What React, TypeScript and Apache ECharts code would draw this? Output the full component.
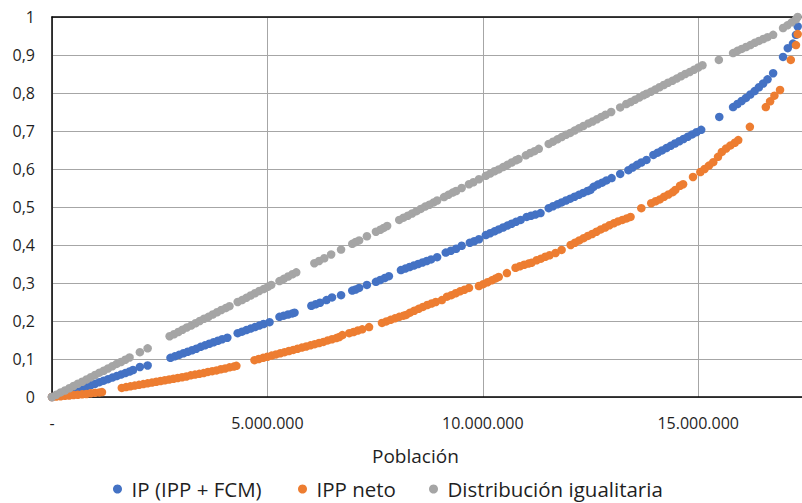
import React, { useEffect, useRef } from "react";
import * as echarts from "echarts";

// Población acumulada (millones de personas) y proporción acumulada
const ipPoints: [number, number][] = [
  [0, 0], [0.1, 0.003], [0.2, 0.007], [0.3, 0.01], [0.4, 0.014], [0.5, 0.017], [0.6, 0.021], [0.7, 0.024],
  [0.8, 0.028], [0.9, 0.031], [1.0, 0.035], [1.1, 0.039], [1.2, 0.043], [1.3, 0.047], [1.4, 0.051],
  [1.5, 0.055], [1.6, 0.059], [1.7, 0.063], [1.8, 0.067], [1.88, 0.071],
  [2.04, 0.079], [2.22, 0.083],
  [2.75, 0.103], [2.85, 0.107], [2.95, 0.111], [3.05, 0.115], [3.15, 0.119], [3.25, 0.123], [3.35, 0.127],
  [3.45, 0.132], [3.55, 0.136], [3.65, 0.14], [3.75, 0.144], [3.85, 0.148], [3.95, 0.152], [4.07, 0.156],
  [4.31, 0.168], [4.41, 0.172], [4.51, 0.176], [4.61, 0.18], [4.71, 0.184], [4.81, 0.188], [4.91, 0.192], [5.05, 0.197],
  [5.28, 0.211], [5.38, 0.214], [5.48, 0.217], [5.58, 0.22], [5.63, 0.222],
  [6.02, 0.24], [6.12, 0.244], [6.22, 0.248], [6.37, 0.255],
  [6.5, 0.262], [6.71, 0.268],
  [6.97, 0.28], [7.05, 0.283], [7.13, 0.287],
  [7.31, 0.295],
  [7.52, 0.303], [7.62, 0.308], [7.72, 0.313], [7.82, 0.318],
  [8.1, 0.334], [8.2, 0.338], [8.3, 0.342], [8.4, 0.346], [8.5, 0.35], [8.6, 0.354], [8.7, 0.358], [8.8, 0.362], [8.94, 0.368],
  [9.14, 0.38], [9.26, 0.385], [9.38, 0.39],
  [9.51, 0.398],
  [9.7, 0.406], [9.8, 0.41], [9.91, 0.415],
  [10.07, 0.426], [10.17, 0.431], [10.27, 0.436], [10.37, 0.441], [10.47, 0.446], [10.57, 0.451], [10.67, 0.456],
  [10.77, 0.461], [10.88, 0.466],
  [11.02, 0.474], [11.12, 0.477], [11.22, 0.48], [11.34, 0.484],
  [11.53, 0.497], [11.63, 0.502], [11.73, 0.507], [11.83, 0.512], [11.93, 0.517], [12.03, 0.522], [12.13, 0.527],
  [12.23, 0.532], [12.33, 0.537], [12.43, 0.542], [12.5, 0.545],
  [12.57, 0.553], [12.67, 0.559], [12.77, 0.564], [12.87, 0.57], [12.99, 0.576],
  [13.19, 0.587],
  [13.38, 0.597], [13.48, 0.604], [13.58, 0.611], [13.68, 0.617], [13.8, 0.624],
  [13.96, 0.637], [14.06, 0.643], [14.16, 0.649], [14.26, 0.655], [14.36, 0.661], [14.46, 0.667], [14.56, 0.673],
  [14.66, 0.679], [14.76, 0.685], [14.86, 0.691], [14.96, 0.697], [15.07, 0.703],
  [15.49, 0.737],
  [15.81, 0.763], [15.91, 0.771], [16.01, 0.779], [16.11, 0.787], [16.21, 0.796], [16.31, 0.805], [16.41, 0.815],
  [16.51, 0.825], [16.61, 0.836], [16.74, 0.852],
  [16.97, 0.895],
  [17.08, 0.918], [17.2, 0.93],
  [17.27, 0.953], [17.31, 0.975],
];

const ippNetoPoints: [number, number][] = [
  [0, 0], [0.1, 0.001], [0.2, 0.002], [0.3, 0.003], [0.4, 0.004], [0.5, 0.005], [0.6, 0.006], [0.7, 0.007],
  [0.8, 0.008], [0.9, 0.01], [1.0, 0.011], [1.1, 0.012], [1.16, 0.013],
  [1.62, 0.024], [1.72, 0.026], [1.82, 0.028], [1.92, 0.03], [2.02, 0.032], [2.12, 0.034], [2.22, 0.036],
  [2.32, 0.038], [2.42, 0.04], [2.52, 0.042], [2.62, 0.044], [2.72, 0.046], [2.82, 0.048], [2.92, 0.05],
  [3.02, 0.052], [3.12, 0.054], [3.22, 0.057], [3.32, 0.059], [3.42, 0.061], [3.52, 0.063], [3.62, 0.066],
  [3.72, 0.068], [3.82, 0.07], [3.92, 0.073], [4.02, 0.075], [4.12, 0.078], [4.22, 0.08], [4.28, 0.082],
  [4.7, 0.097], [4.8, 0.1], [4.9, 0.103], [5.0, 0.106], [5.1, 0.109], [5.2, 0.112], [5.3, 0.115], [5.4, 0.118],
  [5.5, 0.121], [5.6, 0.124], [5.7, 0.127], [5.8, 0.13], [5.9, 0.133], [6.0, 0.136], [6.1, 0.139], [6.2, 0.142],
  [6.3, 0.145], [6.4, 0.149], [6.5, 0.152], [6.6, 0.155], [6.67, 0.158],
  [6.74, 0.163],
  [6.9, 0.168], [7.0, 0.171], [7.1, 0.175], [7.2, 0.178], [7.36, 0.184],
  [7.66, 0.195], [7.76, 0.199], [7.86, 0.203], [7.96, 0.207], [8.06, 0.211], [8.16, 0.214], [8.22, 0.216],
  [8.31, 0.222], [8.41, 0.227], [8.51, 0.232], [8.61, 0.237], [8.71, 0.242], [8.81, 0.246], [8.91, 0.25], [9.05, 0.255],
  [9.17, 0.264], [9.27, 0.268], [9.37, 0.273], [9.47, 0.278], [9.57, 0.282], [9.68, 0.287],
  [9.91, 0.292], [10.01, 0.297], [10.11, 0.302], [10.21, 0.307], [10.3, 0.312], [10.37, 0.316],
  [10.56, 0.326],
  [10.76, 0.34], [10.86, 0.344], [10.96, 0.348], [11.06, 0.351], [11.13, 0.353],
  [11.25, 0.36], [11.35, 0.364], [11.45, 0.369], [11.55, 0.373], [11.69, 0.379],
  [11.83, 0.387],
  [12.04, 0.4], [12.14, 0.406], [12.24, 0.412], [12.34, 0.418], [12.44, 0.424], [12.54, 0.429], [12.64, 0.435],
  [12.74, 0.441], [12.84, 0.446], [12.94, 0.452], [13.04, 0.457], [13.14, 0.462], [13.24, 0.466], [13.34, 0.47], [13.43, 0.474],
  [13.68, 0.497],
  [13.91, 0.51], [14.01, 0.515], [14.11, 0.52], [14.21, 0.527], [14.31, 0.533], [14.41, 0.539], [14.47, 0.545],
  [14.58, 0.556], [14.65, 0.56],
  [14.88, 0.579],
  [15.05, 0.592], [15.15, 0.6], [15.25, 0.609], [15.35, 0.618], [15.46, 0.632],
  [15.55, 0.645], [15.65, 0.654], [15.75, 0.662], [15.85, 0.669], [15.93, 0.676],
  [16.2, 0.711],
  [16.57, 0.763], [16.67, 0.778], [16.77, 0.793], [16.9, 0.808],
  [17.15, 0.887],
  [17.27, 0.926], [17.31, 0.955],
];

const igualitariaPoints: [number, number][] = [
  [0, 0], [0.1, 0.006], [0.2, 0.012], [0.3, 0.017], [0.4, 0.023], [0.5, 0.029], [0.6, 0.035], [0.7, 0.04],
  [0.8, 0.046], [0.9, 0.052], [1.0, 0.058], [1.1, 0.064], [1.2, 0.069], [1.3, 0.075], [1.4, 0.081],
  [1.5, 0.087], [1.6, 0.092], [1.7, 0.098], [1.8, 0.104],
  [2.04, 0.118], [2.22, 0.128],
  [2.73, 0.16], [2.83, 0.165], [2.93, 0.171], [3.03, 0.177], [3.13, 0.183], [3.23, 0.188], [3.33, 0.194],
  [3.43, 0.2], [3.53, 0.206], [3.63, 0.211], [3.73, 0.217], [3.83, 0.223], [3.93, 0.229], [4.03, 0.234], [4.12, 0.239],
  [4.31, 0.25], [4.41, 0.255], [4.51, 0.261], [4.61, 0.267], [4.71, 0.273], [4.81, 0.279], [4.91, 0.284],
  [5.01, 0.29], [5.09, 0.295],
  [5.28, 0.305], [5.38, 0.311], [5.48, 0.317], [5.58, 0.323], [5.67, 0.328],
  [6.09, 0.352], [6.2, 0.358], [6.32, 0.365],
  [6.48, 0.375], [6.71, 0.388],
  [6.97, 0.403], [7.05, 0.408], [7.13, 0.412],
  [7.31, 0.423],
  [7.52, 0.435], [7.62, 0.44], [7.7, 0.445], [7.78, 0.45],
  [8.06, 0.466], [8.16, 0.472], [8.26, 0.477], [8.36, 0.483], [8.46, 0.489], [8.56, 0.495], [8.66, 0.501],
  [8.76, 0.506], [8.86, 0.512], [8.94, 0.517],
  [9.1, 0.526], [9.2, 0.532], [9.3, 0.538], [9.38, 0.542],
  [9.51, 0.55],
  [9.68, 0.56], [9.78, 0.565], [9.91, 0.573],
  [10.07, 0.582], [10.17, 0.588], [10.27, 0.594], [10.37, 0.599], [10.47, 0.605], [10.57, 0.611], [10.67, 0.617],
  [10.77, 0.623], [10.83, 0.626],
  [11.0, 0.636], [11.1, 0.642], [11.2, 0.647], [11.3, 0.653],
  [11.53, 0.666], [11.63, 0.672], [11.73, 0.678], [11.83, 0.684], [11.93, 0.69], [12.03, 0.695], [12.13, 0.701],
  [12.23, 0.707], [12.33, 0.713], [12.45, 0.72],
  [12.55, 0.725], [12.65, 0.731], [12.75, 0.737], [12.85, 0.743], [12.98, 0.75],
  [13.19, 0.762],
  [13.33, 0.771], [13.43, 0.776], [13.53, 0.782], [13.63, 0.788], [13.73, 0.794],
  [13.8, 0.798], [13.9, 0.803], [14.0, 0.809], [14.1, 0.815], [14.2, 0.821], [14.3, 0.827], [14.4, 0.832],
  [14.5, 0.838], [14.6, 0.844], [14.7, 0.85], [14.8, 0.855], [14.9, 0.861], [15.0, 0.867], [15.1, 0.873],
  [15.48, 0.887],
  [15.81, 0.905], [15.91, 0.911], [16.01, 0.916], [16.11, 0.921], [16.21, 0.926], [16.31, 0.932], [16.41, 0.937],
  [16.51, 0.942], [16.61, 0.947], [16.74, 0.953],
  [16.97, 0.971], [17.07, 0.978], [17.17, 0.986], [17.27, 0.994], [17.31, 1.0],
];

const seriesNames = ["IP (IPP + FCM)", "IPP neto", "Distribución igualitaria"];
const seriesColors = ["#4472C4", "#ED7D31", "#A5A5A5"];
const xTickStep = 5; // millones
const xMax = 17.41;
const axisTitle = "Población";

const FONT = "'Open Sans', 'Noto Sans', sans-serif";
const TEXT = "#1f1f1f";

// Posición horizontal de cada entrada de la leyenda
const legendLefts = [108, 293, 424];

function formatPopulation(millions: number): string {
  if (millions === 0) return "-";
  if (Math.abs(millions % xTickStep) > 1e-9) return "";
  const n = Math.round(millions * 1e6);
  return n.toString().replace(/\B(?=(\d{3})+(?!\d))/g, ".");
}

function formatShare(v: number): string {
  if (Math.abs(v) < 1e-9) return "0";
  if (Math.abs(v - 1) < 1e-9) return "1";
  return v.toFixed(1).replace(".", ",");
}

export default function App() {
  const ref = useRef<HTMLDivElement>(null);

  useEffect(() => {
    if (!ref.current) return;
    const chart = echarts.init(ref.current, null, { renderer: "svg" });
    const pointSets = [ipPoints, ippNetoPoints, igualitariaPoints];

    chart.setOption({
      animation: false,
      backgroundColor: "#ffffff",
      textStyle: { fontFamily: FONT },
      grid: { left: 52, right: -2, top: 17, bottom: 106, containLabel: false },
      legend: seriesNames.map((name, i) => ({
        data: [name],
        left: legendLefts[i],
        top: 473,
        icon: "circle",
        itemWidth: 18,
        itemHeight: 9,
        selectedMode: false,
        textStyle: { fontFamily: FONT, fontSize: 20.5, lineHeight: 22, color: TEXT },
      })),
      xAxis: [
        {
          type: "value",
          min: 0,
          max: xMax,
          interval: xTickStep,
          axisLine: { show: true, onZero: false, lineStyle: { color: "#000", width: 1.5 } },
          axisTick: { show: false },
          splitLine: { show: true, lineStyle: { color: "#a6a6a6", width: 1 } },
          axisLabel: {
            formatter: formatPopulation,
            fontFamily: FONT,
            fontSize: 16,
            color: TEXT,
            margin: 18,
            showMaxLabel: false,
          },
        },
        {
          type: "value",
          position: "top",
          min: 0,
          max: xMax,
          axisLine: { show: true, onZero: false, lineStyle: { color: "#000", width: 1.5 } },
          axisTick: { show: false },
          axisLabel: { show: false },
          splitLine: { show: false },
        },
      ],
      yAxis: {
        type: "value",
        min: 0,
        max: 1,
        interval: 0.1,
        axisLine: { show: true, onZero: false, lineStyle: { color: "#000", width: 1.5 } },
        axisTick: { show: false },
        splitLine: { show: true, lineStyle: { color: "#a6a6a6", width: 1 } },
        axisLabel: {
          formatter: formatShare,
          fontFamily: FONT,
          fontSize: 16,
          color: TEXT,
          margin: 17,
        },
      },
      graphic: [
        {
          type: "text",
          x: 372,
          y: 456,
          style: {
            text: axisTitle,
            font: `19px ${FONT}`,
            fill: TEXT,
            textAlign: "left",
            textVerticalAlign: "middle",
          },
        },
      ],
      series: seriesNames.map((name, i) => ({
        name,
        type: "scatter",
        xAxisIndex: 0,
        symbol: "circle",
        symbolSize: 8.5,
        itemStyle: { color: seriesColors[i], opacity: 1 },
        emphasis: { disabled: true },
        data: pointSets[i],
      })),
    });

    return () => chart.dispose();
  }, []);

  return (
    <div
      ref={ref}
      style={{ position: "fixed", left: 0, top: 0, width: 802, height: 503 }}
    />
  );
}
